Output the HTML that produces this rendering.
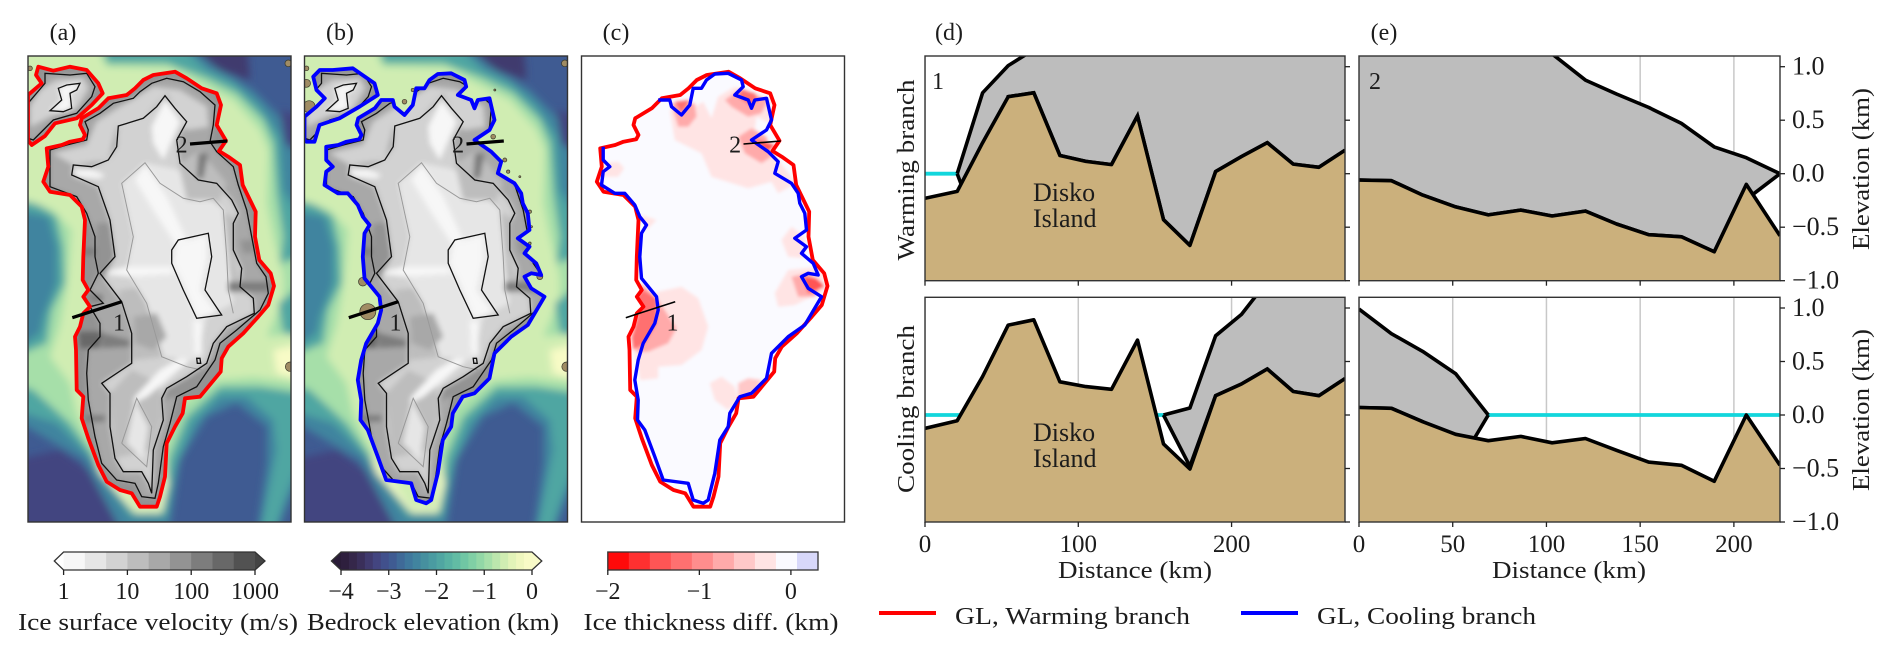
<!DOCTYPE html>
<html lang="en">
<head>
<meta charset="utf-8">
<title>Greenland ice sheet hysteresis figure</title>
<style>
html,body{margin:0;padding:0;background:#fff;}
svg{display:block;}
text{font-family:"Liberation Serif",serif;fill:#1c1c1c;font-size:24px;}
</style>
</head>
<body>
<svg id="fig" xmlns="http://www.w3.org/2000/svg" width="1892" height="656" viewBox="0 0 1892 656">
<defs>
<filter id="blurTerrain" x="-10%" y="-10%" width="120%" height="120%"><feGaussianBlur stdDeviation="4"/></filter>
<filter id="blurIce" x="-10%" y="-10%" width="120%" height="120%"><feGaussianBlur stdDeviation="2.6"/></filter>
<filter id="blurDiff" x="-10%" y="-10%" width="120%" height="120%"><feGaussianBlur stdDeviation="1.6"/></filter>
</defs>
<rect width="1892" height="656" fill="#fff"/>
<g id="maps"></g>
<g id="profiles"></g>
<g id="bars"></g>

<text x="63" y="40" text-anchor="middle">(a)</text>
<text x="340" y="40" text-anchor="middle">(b)</text>
<text x="616" y="40" text-anchor="middle">(c)</text>
<text x="949" y="40" text-anchor="middle">(d)</text>
<text x="1384" y="40" text-anchor="middle">(e)</text>

<text x="158" y="630" text-anchor="middle" textLength="280" lengthAdjust="spacingAndGlyphs">Ice surface velocity (m/s)</text>
<text x="433" y="630" text-anchor="middle" textLength="252" lengthAdjust="spacingAndGlyphs">Bedrock elevation (km)</text>
<text x="711" y="630" text-anchor="middle" textLength="255" lengthAdjust="spacingAndGlyphs">Ice thickness diff. (km)</text>

<text x="1135" y="578" text-anchor="middle" textLength="154" lengthAdjust="spacingAndGlyphs">Distance (km)</text>
<text x="1569" y="578" text-anchor="middle" textLength="154" lengthAdjust="spacingAndGlyphs">Distance (km)</text>

<text transform="translate(914,170) rotate(-90)" text-anchor="middle" textLength="181" lengthAdjust="spacingAndGlyphs">Warming branch</text>
<text transform="translate(914,409) rotate(-90)" text-anchor="middle" textLength="168" lengthAdjust="spacingAndGlyphs">Cooling branch</text>
<text transform="translate(1869,169) rotate(-90)" text-anchor="middle" textLength="162" lengthAdjust="spacingAndGlyphs">Elevation (km)</text>
<text transform="translate(1869,410) rotate(-90)" text-anchor="middle" textLength="162" lengthAdjust="spacingAndGlyphs">Elevation (km)</text>

<line x1="879" y1="613" x2="936" y2="613" stroke="#ff0000" stroke-width="4"/>
<text x="955" y="624" textLength="235" lengthAdjust="spacingAndGlyphs">GL, Warming branch</text>
<line x1="1241" y1="613" x2="1298" y2="613" stroke="#0000ff" stroke-width="4"/>
<text x="1317" y="624" textLength="219" lengthAdjust="spacingAndGlyphs">GL, Cooling branch</text>
</svg>

<script>
/* ---------- profile data (km along section, km elevation) ---------- */
const dDistance = [0,21,37.6,54.3,71,88,105,121.7,138.6,155.6,172.8,189.6,206.5,223.3,240.2,257,274];
const eDistance = [0,17.3,34,51.6,69,86.3,103,120.8,137.4,154.5,172,189.5,206.6,224.6];

const dBedWarming = [-0.23,-0.165,0.29,0.72,0.756,0.17,0.115,0.085,0.54,-0.43,-0.67,0.02,0.16,0.29,0.09,0.06,0.22];
const dSurfaceWarming = [null,0,0.756,1.01,1.16,1.4,1.6,1.7,1.75,1.7,1.6,1.55,1.55,1.6,1.6,1.55,1.5];
const dBaseWarming = [null,0,-0.63,0.72,0.756,0.17,0.115,0.085,0.54,-0.43,-0.67,0.02,0.16,0.29,0.09,0.06,0.22];

const dBedCooling = [-0.125,-0.053,0.36,0.84,0.89,0.31,0.265,0.24,0.70,-0.27,-0.505,0.18,0.29,0.43,0.22,0.18,0.34];
const dSurfaceCooling = [null,null,null,null,null,null,null,null,null,0,0.065,0.74,0.94,1.25,1.5,1.6,1.6];
const dBaseCooling = [null,null,null,null,null,null,null,null,null,0,-0.48,0.18,0.29,0.43,0.22,0.18,0.34];

const eBedWarming = [-0.06,-0.065,-0.2,-0.31,-0.385,-0.34,-0.395,-0.35,-0.47,-0.57,-0.59,-0.73,-0.10,-0.58];
const eSurfaceWarming = [2.0,1.95,1.9,1.8,1.65,1.4,1.12,0.875,0.745,0.62,0.47,0.25,0.15,0];
const eBaseWarming = [-0.06,-0.065,-0.2,-0.31,-0.385,-0.34,-0.395,-0.35,-0.47,-0.57,-0.59,-0.73,-0.24,0];

const eBedCooling = [0.07,0.0625,-0.0625,-0.18,-0.24,-0.2,-0.26,-0.22,-0.33,-0.44,-0.47,-0.62,0.0,-0.47];
const eSurfaceCooling = [0.99,0.76,0.594,0.385,0,null,null,null,null,null,null,null,null,null];
const eBaseCooling = [0.07,0.0625,-0.0625,-0.51,0,null,null,null,null,null,null,null,null,null];

const dTickValues = [0,100,200];
const eTickValues = [0,50,100,150,200];
const yTickValues = [-1,-0.5,0,0.5,1];
const yTickLabels = ["\u22121.0","\u22120.5","0.0","0.5","1.0"];

/* ---------- colorbar data ---------- */
const velColors = ["#f7f7f7","#e6e6e6","#d2d2d2","#bdbdbd","#a8a8a8","#939393","#7d7d7d","#686868","#525252"];
const velTickLabels = ["1","10","100","1000"];
const velTickValues = [0,1,2,3];
const bedColors = ["#2e1f3e","#35274a","#3a2f5a","#403a6e","#434580","#41508c","#3f5b92","#3f6a98","#3f789d","#41849f","#46909f","#4a9ba1","#50a6a2","#58b2a3","#62bca4","#70c6a4","#80cfa5","#92d7a6","#a6dfa9","#bce6ad","#d0edb2","#e2f3b8","#eff7be","#f8fbc6"];
const bedTickLabels = ["\u22124","\u22123","\u22122","\u22121","0"];
const bedTickValues = [-4,-3,-2,-1,0];
const diffColors = ["#ff0a0a","#ff3030","#ff5555","#ff7070","#ff8d8d","#ffaaaa","#ffc8c8","#ffe4e4","#fafaff","#d8d8fa"];
const diffTickLabels = ["\u22122","\u22121","0"];
const diffTickValues = [-2,-1,0];

/* ---------- map data, in map units ---------- */
const redGreenland = [[80,295],[125,285],[150,275],[188,268],[195,255],[180,225],[185,205],[235,175],[265,145],[320,135],[345,115],[370,90],[400,75],[465,65],[500,85],[545,115],[590,130],[603,165],[590,225],[618,272],[597,303],[625,320],[660,345],[668,405],[690,450],[707,485],[705,560],[718,630],[752,670],[762,708],[745,765],[715,800],[670,850],[625,890],[605,925],[602,965],[540,1040],[495,1045],[488,1090],[465,1130],[440,1180],[435,1280],[420,1340],[410,1370],[360,1370],[335,1330],[300,1320],[260,1295],[235,1245],[205,1165],[185,1105],[190,1040],[170,1020],[168,900],[165,860],[180,830],[190,790],[210,770],[190,740],[205,720],[188,690],[190,620],[195,510],[185,470],[150,435],[90,425],[70,395],[85,350]];
const redEllesmere = [[24,135],[65,100],[48,75],[55,50],[100,62],[150,50],[200,60],[235,100],[248,130],[215,165],[170,205],[105,220],[75,258],[35,285],[24,270]];
const blueEllesmere = [[50,80],[70,60],[109,60],[169,55],[234,100],[244,135],[189,170],[129,205],[69,225],[54,275],[29,275],[24,270],[24,200],[60,170],[85,145],[60,120]];
/* cooling-branch grounding line, traced on panel (c), which sits 4 map units left */
const blueGreenlandTraced = [[85,290],[85,330],[105,350],[85,365],[80,405],[120,430],[150,430],[180,465],[195,500],[215,525],[200,550],[195,620],[200,685],[245,740],[250,780],[240,820],[205,880],[190,930],[180,990],[190,1050],[188,1110],[210,1140],[240,1220],[265,1290],[340,1300],[355,1350],[385,1360],[400,1350],[405,1330],[420,1270],[435,1170],[460,1130],[465,1090],[495,1040],[530,1030],[575,985],[590,910],[640,860],[690,825],[740,740],[700,715],[680,680],[700,670],[730,675],[715,640],[680,610],[695,590],[660,565],[695,540],[690,490],[675,460],[670,430],[650,400],[600,370],[610,335],[580,305],[530,270],[575,240],[590,210],[575,145],[540,150],[530,175],[520,150],[480,135],[505,110],[500,90],[460,70],[420,72],[395,90],[380,115],[355,115],[345,165],[320,195],[290,170],[285,150],[250,150],[231,175],[181,205],[176,225],[191,255],[184,268],[146,275],[121,285]];

const outerContour = [[90,300],[140,285],[200,270],[205,240],[195,215],[240,190],[280,160],[340,145],[360,125],[395,100],[440,85],[490,95],[540,125],[585,165],[580,225],[570,275],[590,305],[640,350],[655,405],[680,480],[695,560],[710,640],[738,680],[745,730],[720,780],[650,840],[600,880],[585,930],[530,1010],[470,1040],[450,1120],[430,1190],[415,1300],[405,1345],[365,1340],[345,1300],[290,1290],[245,1240],[225,1160],[205,1050],[200,970],[205,900],[240,860],[240,820],[210,770],[250,760],[210,720],[235,670],[225,620],[225,560],[200,490],[170,440],[90,410]];
const innerContour = [[155,375],[160,345],[215,350],[265,330],[290,290],[295,228],[370,205],[410,170],[435,137],[465,175],[500,215],[470,270],[480,340],[535,390],[590,400],[635,450],[655,490],[640,520],[640,600],[665,655],[660,710],[700,745],[703,790],[620,830],[580,880],[560,940],[500,980],[440,1015],[425,1045],[430,1110],[400,1200],[395,1330],[385,1300],[365,1265],[310,1265],[285,1225],[270,1130],[270,1030],[245,1000],[335,940],[335,850],[305,755],[240,670],[285,620],[270,510],[235,410]];
const summitContour = [[455,600],[475,570],[565,550],[575,620],[555,720],[605,795],[530,805],[490,720],[455,640]];
const spotContour = [[530,925],[540,925],[542,940],[532,940]];
const thinDivide = [[545,960],[500,950],[425,920],[380,760],[320,660],[340,560],[305,400],[375,338],[420,400],[490,445],[540,455],[580,445],[610,480],[620,620],[625,720],[640,790]];
const thinSouth = [[305,1180],[350,1045],[395,1130],[380,1250],[305,1180]];
const ellesOuter = [[24,160],[75,100],[75,70],[150,75],[200,70],[225,110],[215,140],[170,190],[100,210],[70,240],[40,270],[24,265]];
const ellesInner = [[115,115],[140,105],[180,100],[170,120],[150,130],[155,175],[130,185],[90,182],[125,150]];

const iceLevels = [1.5,0.85,0.85,1.2,1.2,1.2,1.2,0.5,0.15,0.15,0.15,0.15,0.15,0.5,0.15,0.15,2.5,2.2,2.2,2.2,2.2,2.2,2.2,1.85,1.85,1.85,1.5];
const icePolys = [
 outerContour,
 [[100,310],[200,285],[230,215],[300,170],[400,110],[480,120],[560,170],[565,230],[500,240],[440,130],[370,205],[290,230],[265,330],[160,345]],
 innerContour,
 [[295,720],[380,710],[440,740],[480,830],[430,920],[340,930],[335,850]],
 [[480,340],[540,300],[620,400],[590,470],[520,470],[450,420]],
 [[590,480],[640,500],[640,620],[660,700],[620,760],[590,650]],
 [[270,1030],[335,960],[420,1000],[425,1100],[395,1200],[285,1225]],
 [[305,400],[375,338],[480,360],[500,450],[580,450],[610,480],[625,620],[640,760],[560,800],[530,930],[430,920],[380,760],[320,660],[340,560]],
 [[345,390],[375,345],[440,440],[500,570],[465,580],[400,480]],
 [[470,580],[560,555],[560,630],[540,720],[590,790],[530,800],[490,700],[460,640]],
 [[160,360],[215,360],[255,375],[240,385],[170,380]],
 [[395,230],[435,150],[480,215],[430,330],[400,280]],
 [[240,670],[320,650],[450,650],[470,670],[330,680]],
 [[345,1050],[385,1130],[370,1230],[320,1180]],
 [[345,1040],[420,960],[480,925],[510,930],[430,1000],[380,1040],[340,1060]],
 [[520,810],[545,815],[545,920],[525,910]],
 [[175,845],[245,845],[240,895],[180,895]],
 [[245,848],[330,870],[330,890],[245,895]],
 [[535,310],[565,310],[550,385],[530,385]],
 [[625,695],[745,695],[745,725],[625,725]],
 [[195,1095],[255,1095],[255,1115],[195,1115]],
 [[190,595],[240,595],[240,615],[190,615]],
 [[210,730],[250,735],[245,755],[215,750]],
 [[660,570],[700,570],[700,610],[670,610]],
 [[230,520],[270,520],[285,620],[250,690],[225,640]],
 [[560,950],[600,900],[585,940],[530,1010],[470,1040],[430,1050],[440,1015],[500,985]],
 [[340,800],[410,790],[440,860],[400,900],[345,880]]
];
const ellesLevels = [1.5,0.85,0.15];
const ellesPolys = [ellesOuter,[[60,120],[110,90],[190,85],[205,115],[170,175],[100,195],[60,215],[30,230],[30,170]],ellesInner];

const terrainElev = [-3.6,-3.3,-2.5,-2,-1,-0.6,-0.15,-0.15,-3.4,-3.3,-2];
const terrainPolys = [
 [[24,1290],[100,1280],[200,1320],[310,1415],[24,1415]],
 [[24,1230],[120,1200],[260,1300],[400,1415],[24,1415]],
 [[24,18],[490,18],[580,50],[700,120],[790,210],[812,240],[812,1240],[770,1415],[710,1415],[740,1240],[740,1130],[650,1060],[560,1100],[480,1230],[445,1415],[310,1415],[190,1230],[24,1110]],
 [[24,18],[470,18],[560,60],[640,95],[720,170],[780,260],[790,420],[812,520],[812,1200],[790,1360],[760,1415],[720,1415],[770,1200],[760,1110],[680,1040],[600,1040],[520,1120],[470,1250],[440,1400],[330,1400],[200,1210],[110,1120],[24,1080],[24,900],[60,850],[70,800],[110,700],[110,590],[85,500],[24,480]],
 [[24,18],[250,18],[260,40],[440,40],[560,85],[650,130],[730,210],[760,280],[770,430],[790,560],[780,640],[812,620],[812,1030],[720,1010],[600,1010],[500,1100],[450,1220],[420,1385],[350,1385],[230,1230],[150,1120],[40,1020],[24,1000],[24,920],[80,880],[95,780],[135,700],[130,590],[110,500],[50,460],[24,450]],
 [[24,18],[220,18],[260,50],[450,55],[560,110],[640,150],[720,240],[745,300],[740,460],[760,560],[790,680],[790,740],[740,860],[812,850],[812,1000],[700,980],[590,990],[470,1070],[430,1210],[410,1375],[360,1375],[240,1240],[170,1090],[150,1000],[90,920],[120,830],[140,720],[150,620],[155,540],[100,480],[24,440]],
 [[760,900],[812,880],[812,990],[770,970]],
 [[220,1210],[260,1260],[350,1375],[415,1378],[432,1220],[445,1300],[425,1388],[345,1388],[240,1270]],
 [[500,18],[680,18],[690,90],[600,60]],
 [[780,180],[812,200],[812,320],[795,280]],
 [[775,760],[812,700],[812,860],[790,850]]
];
const landAX = [805,810,30];
const landAY = [40,950,55];
const landASize = [10,14,7];
const landBX = [805,810,30,38,30,595,590,625,635,670,700,705,700,730,214,199,324,349];
const landBY = [40,950,55,170,100,120,260,330,365,380,485,530,580,680,785,695,155,120];
const landBSize = [10,14,7,18,12,3,7,6,5,3,5,3,4,9,24,13,7,5];

const diffLevels = [-0.3,-0.3,-0.3,-0.3,-0.3,-0.3,-0.3,-0.3,-0.8,-0.8,-0.8,-0.6,-0.8,-1.2,-1.2,-1.2,-1.5,-0.8,-1.5];
const diffPolys = [
 [[194,760],[254,725],[324,710],[374,745],[404,830],[384,900],[324,945],[254,950],[254,985],[204,990],[184,920],[169,860],[194,790]],
 [[289,180],[364,170],[389,155],[414,205],[434,140],[484,110],[594,150],[589,220],[549,200],[544,235],[564,260],[614,330],[669,400],[614,430],[594,395],[524,415],[414,380],[384,310],[304,270]],
 [[604,730],[644,660],[744,650],[754,720],[664,765],[614,770]],
 [[624,570],[654,530],[694,560],[694,625],[644,620]],
 [[409,1000],[444,980],[484,1010],[494,1050],[464,1080],[424,1050]],
 [[89,340],[134,335],[152,355],[134,380],[89,380]],
 [[204,495],[249,510],[219,540]],
 [[194,960],[250,960],[250,985],[200,990]],
 [[179,850],[204,700],[254,750],[309,835],[284,880],[224,905],[189,905]],
 [[294,160],[364,160],[369,200],[344,230],[314,230]],
 [[454,150],[504,115],[584,150],[564,190],[524,200],[474,170]],
 [[494,1000],[524,985],[564,990],[534,1040],[494,1040]],
 [[494,260],[534,235],[579,260],[594,320],[564,340],[514,310]],
 [[209,720],[249,745],[249,820],[214,880],[179,900],[174,860],[194,800],[189,740]],
 [[304,155],[349,150],[324,190]],
 [[504,120],[544,130],[554,150],[529,165],[494,140]],
 [[534,265],[604,285],[584,305]],
 [[654,680],[704,670],[749,700],[724,740],[674,740]],
 [[689,680],[729,685],[754,710],[704,730]]
];
const sectionOne = [[157,803],[305,755]];
const sectionTwo = [[510,282],[622,273]];

/* ---------- helpers ---------- */
const SVGNS = "http://www.w3.org/2000/svg";
function mk(tag, attrs, parent){
  const el = document.createElementNS(SVGNS, tag);
  for (const k in attrs) el.setAttribute(k, attrs[k]);
  parent.appendChild(el);
  return el;
}
const bedColor = e => bedColors[Math.max(0, Math.min(23, Math.floor((e + 4) / 4 * 24)))];
const velColor = v => velColors[Math.max(0, Math.min(8, Math.floor(v / 3 * 9)))];
const diffColor = d => diffColors[Math.max(0, Math.min(9, Math.floor((d + 2) / 0.2296)))];

/* ---------- map panels ---------- */
const MAP_TOP = 56, MAP_W = 263, MAP_H = 466;
const mapY = y => MAP_TOP + (y - 18) / 3;
const mapPoints = (left, arr, extend) => arr.map(p => {
  let x = p[0], y = p[1];
  if (extend) { if (x <= 24) x -= 40; if (y <= 18) y -= 40; if (x >= 812) x += 40; if (y >= 1415) y += 40; }
  return (left + (x - 24) / 3).toFixed(1) + "," + mapY(y).toFixed(1);
}).join(" ");
const blueGreenland = blueGreenlandTraced.map(p => [p[0] + 4, p[1]]);
const mapsRoot = document.getElementById("maps");

function defineClip(id, left, polys){
  const defs = document.querySelector("defs");
  const cp = mk("clipPath", {id: id}, defs);
  polys.forEach(poly => mk("polygon", {points: mapPoints(left, poly)}, cp));
}
function defineRectClip(id, x, y, w, h){
  const defs = document.querySelector("defs");
  const cp = mk("clipPath", {id: id}, defs);
  mk("rect", {x: x, y: y, width: w, height: h}, cp);
}

function drawTerrainMap(key, left, outlines, color, landX, landY, landSize){
  const panel = mk("g", {}, mapsRoot);
  
  
  defineRectClip("frame-" + key, left, MAP_TOP, MAP_W, MAP_H);
  defineClip("ice-" + key, left, outlines);
  const framed = mk("g", {"clip-path": "url(#frame-" + key + ")"}, panel);
  const base = mk("rect", {x: left, y: MAP_TOP, width: MAP_W, height: MAP_H, fill: bedColor(-3)}, framed);
  
  
  const terr = mk("g", {filter: "url(#blurTerrain)"}, framed);
  
  
  terrainPolys.forEach((poly, i) => {
    const el = mk("polygon", {points: mapPoints(left, poly, true), fill: bedColor(terrainElev[i])}, terr);
    
    
  });
  landX.forEach((x, i) => {
    const el = mk("circle", {cx: left + (x - 24) / 3, cy: mapY(landY[i]), r: landSize[i] / 3, fill: "#a08c64", stroke: "#3a3a2a", "stroke-width": 0.7}, framed);
    
    
  });
  const iceClip = mk("g", {"clip-path": "url(#ice-" + key + ")"}, framed);
  
  
  outlines.forEach(poly => {
    const el = mk("polygon", {points: mapPoints(left, poly), fill: velColor(1.85)}, iceClip);
    
    
  });
  const iceG = mk("g", {filter: "url(#blurIce)"}, iceClip);
  icePolys.forEach((poly, i) => {
    const el = mk("polygon", {points: mapPoints(left, poly), fill: velColor(iceLevels[i])}, iceG);
    
    
  });
  ellesPolys.forEach((poly, i) => {
    const el = mk("polygon", {points: mapPoints(left, poly), fill: velColor(ellesLevels[i])}, iceG);
    
    
  });
  [thinDivide, thinSouth].forEach(line => {
    const el = mk("polyline", {points: mapPoints(left, line), fill: "none", stroke: "#999", "stroke-width": 1}, iceClip);
    
    
  });
  [outerContour, innerContour, summitContour, spotContour, ellesOuter, ellesInner].forEach(poly => {
    const el = mk("polygon", {points: mapPoints(left, poly), fill: "none", stroke: "#111", "stroke-width": 1.3}, iceClip);
    
    
  });
  outlines.forEach(poly => {
    const el = mk("polygon", {points: mapPoints(left, poly), fill: "none", stroke: color, "stroke-width": 3.8, "stroke-linejoin": "round"}, framed);
    
    
  });
  return panel;
}

function drawSections(panel, left, width){
  [sectionOne, sectionTwo].forEach(sec => {
    const el = mk("polyline", {points: mapPoints(left, sec), fill: "none", stroke: "#000", "stroke-width": width}, panel);
    
    
  });
  const one = mk("text", {x: left + (297 - 24) / 3, y: mapY(842), "text-anchor": "middle"}, panel);
  one.textContent = "1";
  
  
  const two = mk("text", {x: left + (485 - 24) / 3, y: mapY(308), "text-anchor": "middle"}, panel);
  two.textContent = "2";
  
  
}
function drawMapFrame(panel, left){
  const el = mk("rect", {x: left, y: MAP_TOP, width: MAP_W, height: MAP_H, fill: "none", stroke: "#333", "stroke-width": 1.4}, panel);
  
  
}

const panelA = drawTerrainMap("a", 28, [redGreenland, redEllesmere], "#ff0000", landAX, landAY, landASize);
drawSections(panelA, 28, 3.2);
drawMapFrame(panelA, 28);
const panelB = drawTerrainMap("b", 304.5, [blueGreenland, blueEllesmere], "#0000ff", landBX, landBY, landBSize);
drawSections(panelB, 304.5, 3.2);
drawMapFrame(panelB, 304.5);

/* panel c: thickness difference */
(function(){
  const left = 581.5;
  const panel = mk("g", {}, mapsRoot);
  
  
  defineClip("ice-c", left, [redGreenland]);
  const fill = mk("polygon", {points: mapPoints(left, redGreenland), fill: "#fafaff"}, panel);
  
  
  const clipG = mk("g", {"clip-path": "url(#ice-c)"}, panel);
  const blurG = mk("g", {filter: "url(#blurDiff)"}, clipG);
  diffPolys.forEach((poly, i) => {
    const el = mk("polygon", {points: mapPoints(left, poly), fill: diffColor(diffLevels[i])}, blurG);
    
    
  });
  const red = mk("polygon", {points: mapPoints(left, redGreenland), fill: "none", stroke: "#ff0000", "stroke-width": 3.8, "stroke-linejoin": "round"}, panel);
  
  
  const blue = mk("polyline", {points: mapPoints(left, blueGreenland.slice(0, 76)), fill: "none", stroke: "#0000ff", "stroke-width": 3.4, "stroke-linejoin": "round"}, panel);
  
  
  drawSections(panel, left, 1.6);
  drawMapFrame(panel, left);
})();

/* ---------- profile panels ---------- */
const profilesRoot = document.getElementById("profiles");
const Y_MIN = -1, Y_MAX = 1.1;
function drawProfile(cfg){
  const {key, left, right, top, bottom, xMax, dist, bed, surface, base, xTicks, yLabels, xLabels, cyan} = cfg;
  const sx = v => left + (v / xMax) * (right - left);
  const sy = v => bottom - ((v - Y_MIN) / (Y_MAX - Y_MIN)) * (bottom - top);
  const panel = mk("g", {}, profilesRoot);
  
  
  defineRectClip("clip-" + key, left, top, right - left, bottom - top);
  const plot = mk("g", {"clip-path": "url(#clip-" + key + ")"}, panel);

  xTicks.forEach(t => {
    const g = mk("line", {x1: sx(t), x2: sx(t), y1: top, y2: bottom, stroke: "#c8c8c8", "stroke-width": 1.5}, plot);
    
    
  });
  if (cyan) {
    const c = mk("line", {x1: sx(cyan[0]), x2: sx(cyan[1]), y1: sy(0), y2: sy(0), stroke: "#12d6dc", "stroke-width": 3.8}, plot);
    
    
  }
  const idx = dist.map((_, i) => i).filter(i => surface[i] !== null);
  const upper = idx.map(i => sx(dist[i]).toFixed(1) + "," + sy(surface[i]).toFixed(1));
  const lower = idx.slice().reverse().map(i => sx(dist[i]).toFixed(1) + "," + sy(base[i]).toFixed(1));
  const ice = mk("polygon", {points: upper.concat(lower).join(" "), fill: "#bdbdbd"}, plot);
  
  
  const baseLine = mk("polyline", {points: lower.join(" "), fill: "none", stroke: "#000", "stroke-width": 3.6}, plot);
  
  

  const bedPts = dist.map((d, i) => sx(d).toFixed(1) + "," + sy(bed[i]).toFixed(1));
  const bedFill = mk("polygon", {points: bedPts.join(" ") + " " + sx(dist[dist.length - 1]).toFixed(1) + "," + bottom + " " + sx(0).toFixed(1) + "," + bottom, fill: "#cbb07c"}, plot);
  
  
  const surfLine = mk("polyline", {points: upper.join(" "), fill: "none", stroke: "#000", "stroke-width": 3.6, "stroke-linejoin": "round"}, plot);
  
  
  const bedLine = mk("polyline", {points: bedPts.join(" "), fill: "none", stroke: "#000", "stroke-width": 3.6, "stroke-linejoin": "round"}, plot);
  
  

  const frame = mk("rect", {x: left, y: top, width: right - left, height: bottom - top, fill: "none", stroke: "#333", "stroke-width": 1.4}, panel);
  
  

  xTicks.forEach(t => {
    const tk = mk("line", {x1: sx(t), x2: sx(t), y1: bottom, y2: bottom + 5, stroke: "#222", "stroke-width": 1.3}, panel);
    
    
    if (xLabels) {
      const lb = mk("text", {x: sx(t), y: bottom + 30, "text-anchor": "middle", style: "font-size:25px"}, panel);
      lb.textContent = String(t);
      
      
    }
  });
  yTickValues.forEach((t, i) => {
    const tk = mk("line", {x1: right, x2: right + 5, y1: sy(t), y2: sy(t), stroke: "#222", "stroke-width": 1.3}, panel);
    
    
    if (yLabels) {
      const lb = mk("text", {x: right + 12, y: sy(t) + 8, "text-anchor": "start", style: "font-size:26px"}, panel);
      lb.textContent = yTickLabels[i];
      
      
    }
  });
  return {panel, sx, sy};
}

const pd1 = drawProfile({key:"d-top", left:925, right:1345, top:56, bottom:280.7, xMax:274, dist:dDistance, bed:dBedWarming, surface:dSurfaceWarming, base:dBaseWarming, xTicks:dTickValues, cyan:[0,21]});
const pe1 = drawProfile({key:"e-top", left:1359, right:1780, top:56, bottom:280.7, xMax:224.6, dist:eDistance, bed:eBedWarming, surface:eSurfaceWarming, base:eBaseWarming, xTicks:eTickValues, yLabels:true});
const pd2 = drawProfile({key:"d-bottom", left:925, right:1345, top:297.3, bottom:522, xMax:274, dist:dDistance, bed:dBedCooling, surface:dSurfaceCooling, base:dBaseCooling, xTicks:dTickValues, xLabels:true, cyan:[0,155.6]});
const pe2 = drawProfile({key:"e-bottom", left:1359, right:1780, top:297.3, bottom:522, xMax:224.6, dist:eDistance, bed:eBedCooling, surface:eSurfaceCooling, base:eBaseCooling, xTicks:eTickValues, yLabels:true, xLabels:true, cyan:[69,224.6]});

const inset1 = mk("text", {x: 938, y: 89, "text-anchor": "middle"}, pd1.panel);
inset1.textContent = "1";


const inset2 = mk("text", {x: 1375, y: 89, "text-anchor": "middle"}, pe1.panel);
inset2.textContent = "2";



const diskoTops = [[1033,201,pd1],[1033,441,pd2]];
diskoTops.forEach(d => {
  const a = mk("text", {x: d[0], y: d[1], style: "font-size:26px"}, d[2].panel);
  a.textContent = "Disko";
  
  
  const b = mk("text", {x: d[0], y: d[1] + 26, style: "font-size:26px"}, d[2].panel);
  b.textContent = "Island";
  
  
});

/* ---------- colorbars ---------- */
const barsRoot = document.getElementById("bars");
function drawBar(cfg){
  const {key, x0, x1, v0, v1, colors, ticks, labels, tipL, tipR, tipLx, tipRx} = cfg;
  const top = 552, bottom = 570;
  const sx = v => x0 + (v - v0) / (v1 - v0) * (x1 - x0);
  const g = mk("g", {}, barsRoot);
  
  
  const w = (x1 - x0) / colors.length;
  colors.forEach((c, i) => {
    const cell = mk("rect", {x: x0 + i * w, y: top, width: w + 0.4, height: bottom - top, fill: c}, g);
    
    
  });
  if (tipL) {
    const a = mk("polygon", {points: x0 + "," + top + " " + tipLx + "," + (top + bottom) / 2 + " " + x0 + "," + bottom, fill: tipL}, g);
    
    
    const b = mk("polygon", {points: x1 + "," + top + " " + tipRx + "," + (top + bottom) / 2 + " " + x1 + "," + bottom, fill: tipR}, g);
    
    
    const o = mk("polygon", {points: [x0 + "," + top, x1 + "," + top, tipRx + "," + (top + bottom) / 2, x1 + "," + bottom, x0 + "," + bottom, tipLx + "," + (top + bottom) / 2].join(" "), fill: "none", stroke: "#333", "stroke-width": 1.3}, g);
    
    
  } else {
    const o = mk("rect", {x: x0, y: top, width: x1 - x0, height: bottom - top, fill: "none", stroke: "#333", "stroke-width": 1.3}, g);
    
    
  }
  ticks.forEach((t, i) => {
    const tk = mk("line", {x1: sx(t), x2: sx(t), y1: bottom, y2: bottom + 5, stroke: "#222", "stroke-width": 1.3}, g);
    
    
    const lb = mk("text", {x: sx(t), y: 599, "text-anchor": "middle"}, g);
    lb.textContent = labels[i];
    
    
  });
}
drawBar({key:"velocity", x0:63.6, x1:255, v0:0, v1:3, colors:velColors, ticks:velTickValues, labels:velTickLabels, tipL:"#ffffff", tipR:"#444444", tipLx:54.3, tipRx:265});
drawBar({key:"bedrock", x0:341, x1:532, v0:-4, v1:0, colors:bedColors, ticks:bedTickValues, labels:bedTickLabels, tipL:"#2a1c38", tipR:"#f8fac8", tipLx:331.4, tipRx:541.8});
drawBar({key:"thickness", x0:607.8, x1:818, v0:-2, v1:0.296, colors:diffColors, ticks:diffTickValues, labels:diffTickLabels});
</script>
</body>
</html>
